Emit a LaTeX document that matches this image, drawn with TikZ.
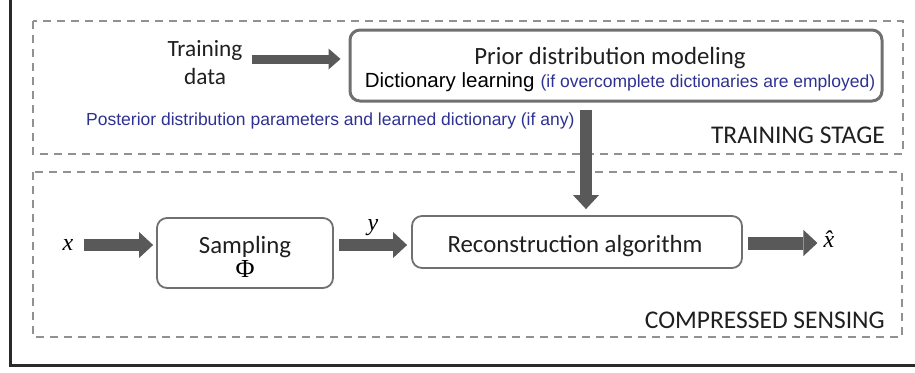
\documentclass[tikz,border=0pt]{standalone}
\usepackage{fontspec}
\setmainfont{Carlito}
\newfontfamily\arialf{Liberation Sans}
\newfontfamily\timesf{Liberation Serif}
\usetikzlibrary{arrows.meta}
\definecolor{arrowgray}{HTML}{595959}
\definecolor{dashgray}{HTML}{919191}
\definecolor{boxgray}{HTML}{707070}
\definecolor{navyblue}{HTML}{2E3192}
\definecolor{framegray}{HTML}{2A2A2A}
\begin{document}
\begin{tikzpicture}[x=1pt,y=-1pt,
  cal/.style={font=\fontsize{24.8}{28}\selectfont, inner sep=0pt, text=black!88},
  tdtxt/.style={font=\fontsize{23.3}{27}\selectfont, inner sep=0pt, text=black!88},
  capt/.style={font=\fontsize{25.5}{28}\selectfont, inner sep=0pt, text=black!88},
  bluetxt/.style={font=\arialf\fontsize{17.5}{21}\selectfont, inner sep=0pt, text=navyblue},
  mathtxt/.style={font=\timesf\itshape\fontsize{24}{28}\selectfont, inner sep=0pt},
  stagebox/.style={draw=dashgray, line width=2.3pt, dash pattern=on 8pt off 6pt},
  priorbox/.style={draw=boxgray, line width=3pt, rounded corners=10pt, inner sep=0pt},
  csbox/.style={draw=boxgray, line width=1.8pt, rounded corners=10pt, inner sep=0pt},
  fatarrow/.style={draw=arrowgray, line width=#1},
  tipA/.style={-{Triangle[width=21pt,length=12pt,line width=0pt]}},
  tipB/.style={-{Triangle[width=26pt,length=14pt,line width=0pt]}},
]
\useasboundingbox (0,0) rectangle (915,372);
% outer frame (partly outside the picture)
\draw[framegray, line width=3pt] (10,-5) -- (10,365) -- (920,365);
% stage boxes
\draw[stagebox] (33,21) rectangle (903,154);
\draw[stagebox] (33,172) rectangle (902,337);
% training stage
\node[priorbox, minimum width=532pt, minimum height=71pt] (prior) at (616,65.5) {};
\node[cal, anchor=base] (priortitle) at (610,64) {Prior distribution modeling};
\node[anchor=base, inner sep=0pt] (dict) at (620,87) {{\arialf\fontsize{20.5}{24}\selectfont Dictionary learning}\hspace{6pt}{\arialf\fontsize{17.5}{21}\selectfont\color{navyblue}(if overcomplete dictionaries are employed)}};
\node[tdtxt, align=center] (td) at (205,63) {Training\\[1pt]data};
\node[bluetxt, anchor=base west] (post) at (86,125) {Posterior distribution parameters and learned dictionary (if any)};
\node[capt, anchor=base east] (ts) at (885,143) {TRAINING STAGE};
% compressed sensing
\node[csbox, minimum width=176pt, minimum height=70pt] (samp) at (245,253) {};
\node[cal, anchor=base] (samptxt) at (245,253) {Sampling};
\node[anchor=base, inner sep=0pt, font=\timesf\fontsize{26}{28}\selectfont] (phi) at (245,277) {Φ};
\node[csbox, minimum width=330pt, minimum height=52pt] (recon) at (577,242) {};
\node[cal, anchor=base] (recontxt) at (575,252) {Reconstruction algorithm};
\node[mathtxt, anchor=base] (xin) at (68,250) {x};
\node[mathtxt, anchor=base] (yl) at (373,230) {y};
\node[mathtxt, anchor=base] (xhat) at (829,247) {\^{x}};
\node[capt, anchor=base east] (cs) at (885,328) {COMPRESSED SENSING};
% connectors
\coordinate (ty) at (0,59);
\coordinate (va) at (586,0);
\coordinate (hy) at (0,245);
\coordinate (hy2) at (0,243);
\draw[fatarrow=9pt, tipA, shorten <=9pt, shorten >=8pt] (td.east |- ty) -- (prior.west |- ty);
\draw[fatarrow=12pt, tipB, shorten <=7pt, shorten >=6pt] (prior.south -| va) -- (recon.north -| va);
\draw[fatarrow=12pt, tipB, shorten <=10pt, shorten >=3pt] (xin.east |- hy) -- (samp.west |- hy);
\draw[fatarrow=12pt, tipB, shorten <=5pt, shorten >=4pt] (samp.east |- hy) -- (recon.west |- hy);
\draw[fatarrow=13pt, tipB, shorten <=5pt, shorten >=6pt] (recon.east |- hy2) -- (xhat.west |- hy2);
\end{tikzpicture}
\end{document}
